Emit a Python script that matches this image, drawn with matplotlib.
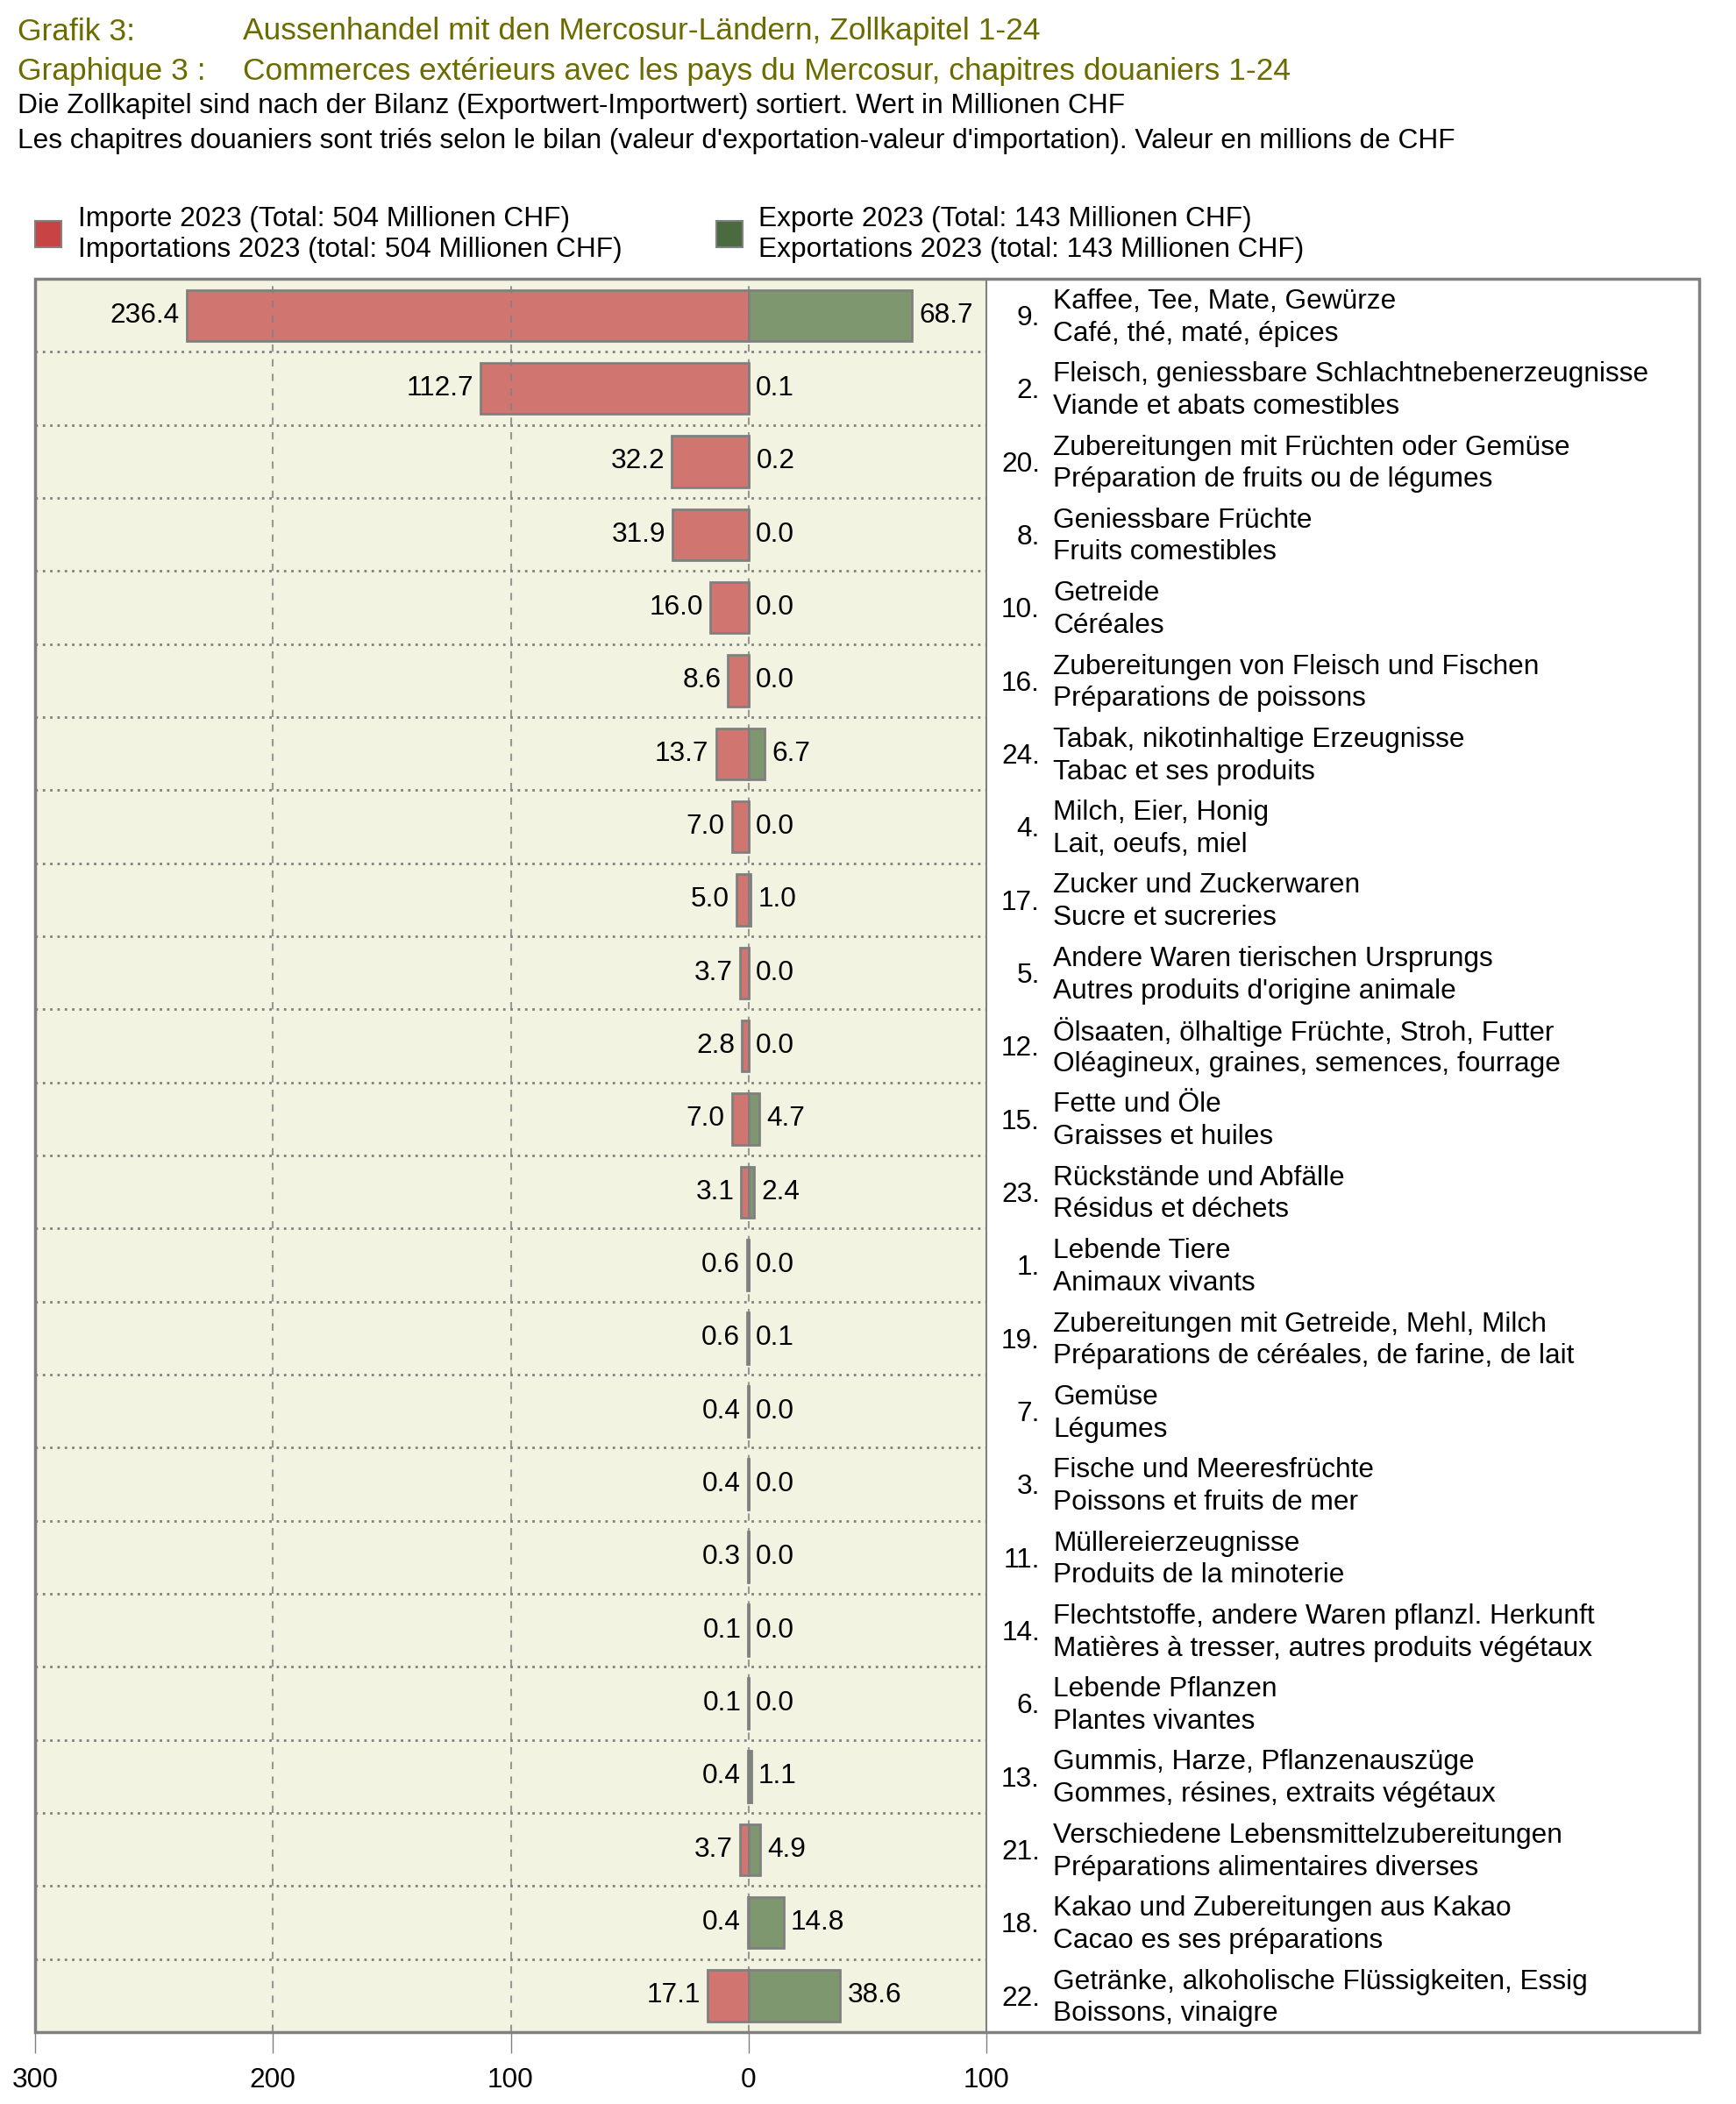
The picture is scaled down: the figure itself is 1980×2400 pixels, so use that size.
import matplotlib
matplotlib.use("Agg")
import matplotlib.pyplot as plt
import matplotlib.transforms as mtransforms
from matplotlib.patches import Rectangle

plt.rcParams["font.family"] = ["Liberation Sans", "DejaVu Sans"]

# Data, top to bottom (sorted by balance)
chapters = ["9.", "2.", "20.", "8.", "10.", "16.", "24.", "4.", "17.", "5.", "12.", "15.",
            "23.", "1.", "19.", "7.", "3.", "11.", "14.", "6.", "13.", "21.", "18.", "22."]
labels_de = [
    "Kaffee, Tee, Mate, Gewürze",
    "Fleisch, geniessbare Schlachtnebenerzeugnisse",
    "Zubereitungen mit Früchten oder Gemüse",
    "Geniessbare Früchte",
    "Getreide",
    "Zubereitungen von Fleisch und Fischen",
    "Tabak, nikotinhaltige Erzeugnisse",
    "Milch, Eier, Honig",
    "Zucker und Zuckerwaren",
    "Andere Waren tierischen Ursprungs",
    "Ölsaaten, ölhaltige Früchte, Stroh, Futter",
    "Fette und Öle",
    "Rückstände und Abfälle",
    "Lebende Tiere",
    "Zubereitungen mit Getreide, Mehl, Milch",
    "Gemüse",
    "Fische und Meeresfrüchte",
    "Müllereierzeugnisse",
    "Flechtstoffe, andere Waren pflanzl. Herkunft",
    "Lebende Pflanzen",
    "Gummis, Harze, Pflanzenauszüge",
    "Verschiedene Lebensmittelzubereitungen",
    "Kakao und Zubereitungen aus Kakao",
    "Getränke, alkoholische Flüssigkeiten, Essig",
]
labels_fr = [
    "Café, thé, maté, épices",
    "Viande et abats comestibles",
    "Préparation de fruits ou de légumes",
    "Fruits comestibles",
    "Céréales",
    "Préparations de poissons",
    "Tabac et ses produits",
    "Lait, oeufs, miel",
    "Sucre et sucreries",
    "Autres produits d'origine animale",
    "Oléagineux, graines, semences, fourrage",
    "Graisses et huiles",
    "Résidus et déchets",
    "Animaux vivants",
    "Préparations de céréales, de farine, de lait",
    "Légumes",
    "Poissons et fruits de mer",
    "Produits de la minoterie",
    "Matières à tresser, autres produits végétaux",
    "Plantes vivantes",
    "Gommes, résines, extraits végétaux",
    "Préparations alimentaires diverses",
    "Cacao es ses préparations",
    "Boissons, vinaigre",
]
imports = [236.4, 112.7, 32.2, 31.9, 16.0, 8.6, 13.7, 7.0, 5.0, 3.7, 2.8, 7.0,
           3.1, 0.6, 0.6, 0.4, 0.4, 0.3, 0.1, 0.1, 0.4, 3.7, 0.4, 17.1]
exports = [68.7, 0.1, 0.2, 0.0, 0.0, 0.0, 6.7, 0.0, 1.0, 0.0, 0.0, 4.7,
           2.4, 0.0, 0.1, 0.0, 0.0, 0.0, 0.0, 0.0, 1.1, 4.9, 14.8, 38.6]
xticks = [-300, -200, -100, 0, 100]

W, H = 1980, 2400
GRAY = "#808080"
RED = "#D07570"
GREEN = "#7E976F"
RED_DARK = "#C84444"
GREEN_DARK = "#4A6B40"
PANEL = "#F3F3E2"
OLIVE = "#6B6B00"
FS_TITLE = 25.5
FS = 22.8


def fx(px):
    return px / W


def fy(py):
    return 1 - py / H


fig = plt.figure(figsize=(W / 100, H / 100), dpi=100)

# header
fig.text(fx(20), fy(36), "Grafik 3:", color=OLIVE, fontsize=FS_TITLE, va="center")
fig.text(fx(277), fy(36), "Aussenhandel mit den Mercosur-Ländern, Zollkapitel 1-24",
         color=OLIVE, fontsize=FS_TITLE, va="center")
fig.text(fx(20), fy(81), "Graphique 3 :", color=OLIVE, fontsize=FS_TITLE, va="center")
fig.text(fx(277), fy(81), "Commerces extérieurs avec les pays du Mercosur, chapitres douaniers 1-24",
         color=OLIVE, fontsize=FS_TITLE, va="center")
fig.text(fx(20), fy(121), "Die Zollkapitel sind nach der Bilanz (Exportwert-Importwert) sortiert. Wert in Millionen CHF",
         fontsize=FS, va="center")
fig.text(fx(20), fy(161), "Les chapitres douaniers sont triés selon le bilan (valeur d'exportation-valeur d'importation). "
         "Valeur en millions de CHF", fontsize=FS, va="center")

# legend
fig.patches.append(Rectangle((fx(40), fy(282)), fx(30), 30 / H, transform=fig.transFigure,
                             facecolor=RED_DARK, edgecolor=GRAY, lw=1.5))
fig.text(fx(89), fy(250), "Importe 2023 (Total: 504 Millionen CHF)", fontsize=FS, va="center")
fig.text(fx(89), fy(285), "Importations 2023 (total: 504 Millionen CHF)", fontsize=FS, va="center")
fig.patches.append(Rectangle((fx(817), fy(282)), fx(30), 30 / H, transform=fig.transFigure,
                             facecolor=GREEN_DARK, edgecolor=GRAY, lw=1.5))
fig.text(fx(865), fy(250), "Exporte 2023 (Total: 143 Millionen CHF)", fontsize=FS, va="center")
fig.text(fx(865), fy(285), "Exportations 2023 (total: 143 Millionen CHF)", fontsize=FS, va="center")

# bar panel
top, bottom, left, right = 318, 2318, 40, 1125
ax = fig.add_axes([fx(left), fy(bottom), fx(right - left), (bottom - top) / H])
ax.set_facecolor(PANEL)
n = len(imports)
ypos = list(range(n))
ax.barh(ypos, [-v for v in imports], height=0.7, color=RED, edgecolor=GRAY, lw=2, zorder=2)
ax.barh(ypos, exports, height=0.7, color=GREEN, edgecolor=GRAY, lw=2, zorder=2)
ax.set_xlim(-300, 100)
ax.set_ylim(n - 0.5, -0.5)

for x in [-200, -100, 0]:
    ax.axvline(x, color=GRAY, lw=1.5, ls=(0, (4, 4)), alpha=0.8, zorder=3)
for i in range(n - 1):
    ax.axhline(i + 0.5, color=GRAY, lw=2, ls=(0, (1, 2)), zorder=1)

for i in ypos:
    ax.annotate(f"{imports[i]:.1f}", (-imports[i], i), xytext=(-8, 0), textcoords="offset pixels",
                ha="right", va="center", fontsize=FS)
    ax.annotate(f"{exports[i]:.1f}", (exports[i], i), xytext=(8, 0), textcoords="offset pixels",
                ha="left", va="center", fontsize=FS)

trans = mtransforms.blended_transform_factory(fig.transFigure, ax.transData)
for i in ypos:
    ax.text(fx(1186), i + 0.04, chapters[i], transform=trans, ha="right", va="center",
            fontsize=FS, clip_on=False)
    ax.text(fx(1201), i - 0.19, labels_de[i], transform=trans, ha="left", va="center",
            fontsize=FS, clip_on=False)
    ax.text(fx(1201), i + 0.25, labels_fr[i], transform=trans, ha="left", va="center",
            fontsize=FS, clip_on=False)

ax.set_yticks([])
ax.set_xticks(xticks)
ax.set_xticklabels([str(abs(t)) for t in xticks], fontsize=FS)
ax.tick_params(axis="x", length=17, width=1, color=GRAY, pad=12, direction="out")
for side in ["top", "left", "bottom"]:
    ax.spines[side].set_visible(False)
ax.spines["right"].set_color(GRAY)
ax.spines["right"].set_linewidth(1.5)

# outer frame around panel and labels
fig.patches.append(Rectangle((fx(left), fy(bottom)), fx(1938 - left), (bottom - top) / H,
                             transform=fig.transFigure, fill=False, edgecolor=GRAY, lw=2.5, zorder=5))

fig.savefig("out.png", dpi=100, facecolor="white")
